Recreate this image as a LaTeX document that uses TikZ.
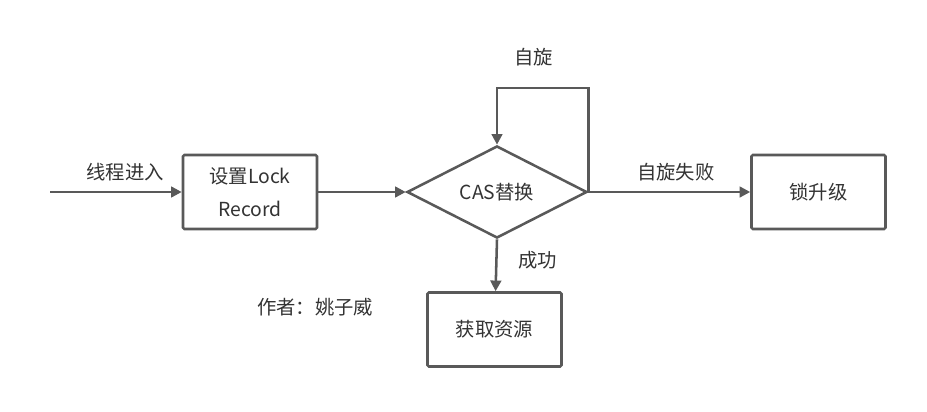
\documentclass[tikz,border=0pt]{standalone}
\usepackage{fontspec}
\setmainfont{Noto Sans CJK SC}
\usepackage{tikz}
\usetikzlibrary{arrows.meta, positioning, shapes.geometric}
\definecolor{linegray}{HTML}{595959}
\definecolor{textgray}{HTML}{333333}
\tikzset{
    box/.style={draw=linegray, line width=1.9pt, rounded corners=1pt, minimum width=100.5pt, minimum height=55.5pt, inner sep=0pt, align=center, text=textgray},
    decision/.style={draw=linegray, line width=1.9pt, diamond, minimum width=135pt, minimum height=62pt, inner sep=0pt, text=textgray},
    flow/.style={draw=linegray, line width=1.9pt, -{Triangle[length=8pt, width=8pt]}},
    tag/.style={text=textgray}
}

\begin{document}
\begin{tikzpicture}[x=0.75pt, y=-0.75pt, font=\fontsize{14.5}{25}\selectfont]
    \useasboundingbox (0,0) rectangle (927,411);

    % Blocchi
    \node[box] (setrec) at (250,192) {设置Lock\\Record};
    \node[decision] (cas) at (497,192) {CAS替换};
    \node[box] (upgrade) at (818.5,192) {锁升级};
    \node[box] (acquire) at (494.5,329.5) {获取资源};
    \coordinate (entry) at (50,192);

    % Frecce
    \draw[flow] (entry) -- node[tag, pos=0.57, above=4pt] {线程进入} (setrec);
    \draw[flow] (setrec) -- (cas);
    \draw[flow] (cas.east) -- node[tag, pos=0.54, above=4pt] {自旋失败} (upgrade);
    \draw[flow] (cas.south) -- node[tag, pos=0.4, right=12pt] {成功} (acquire);

    % Ciclo di rotazione
    \draw[flow] (cas.east) -- ++(0,-104) -| node[tag, pos=0.3, above=12pt] {自旋} (cas.north);

    % Autore
    \node[tag] (author) at (315,307) {作者：姚子威};
\end{tikzpicture}
\end{document}
